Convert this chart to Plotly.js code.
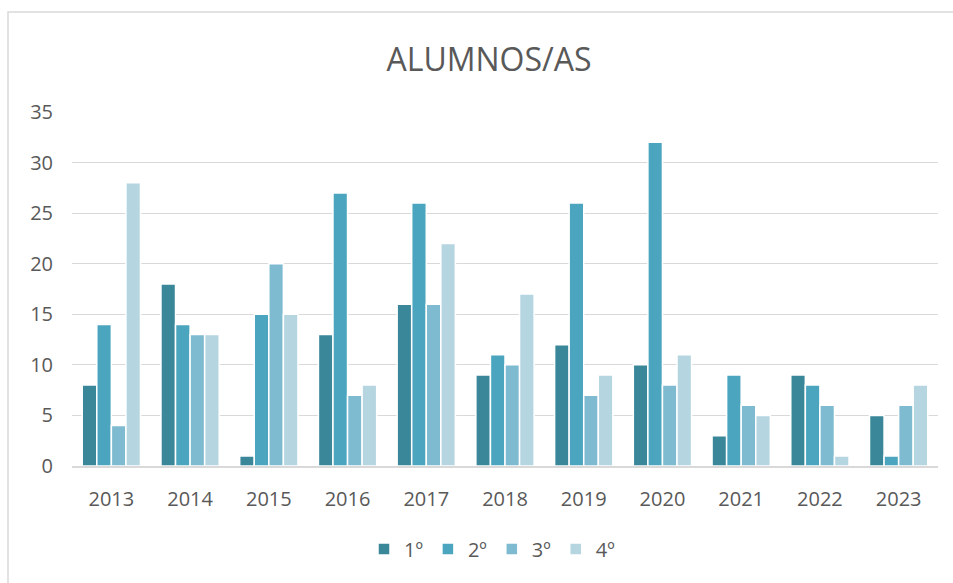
<!DOCTYPE html>
<html>
<head>
<meta charset="utf-8">
<script src="https://cdn.plot.ly/plotly-3.0.1.min.js"></script>
<style>html,body{margin:0;padding:0;background:#fff;}#chart{width:953px;height:583px;}</style>
</head>
<body>
<div id="chart"></div>
<script>
var years = ["2013","2014","2015","2016","2017","2018","2019","2020","2021","2022","2023"];
var seriesNames = ["1º","2º","3º","4º"];
var s1 = [8, 18, 1, 13, 16, 9, 12, 10, 3, 9, 5];
var s2 = [14, 14, 15, 27, 26, 11, 26, 32, 9, 8, 1];
var s3 = [4, 13, 20, 7, 16, 10, 7, 8, 6, 6, 6];
var s4 = [28, 13, 15, 8, 22, 17, 9, 11, 5, 1, 8];
var colors = ["#3A8799", "#4BA5BE", "#7EBBD0", "#B5D5E0"];
var yTicks = [0, 5, 10, 15, 20, 25, 30, 35];

var allSeries = [s1, s2, s3, s4];
var traces = allSeries.map(function(vals, i){
  return {
    type: "bar",
    x: years,
    y: vals,
    name: seriesNames[i],
    marker: {color: colors[i], line: {color: "#ffffff", width: 1.5}},
    hoverinfo: "x+y+name"
  };
});

var layout = {
  width: 953, height: 583,
  margin: {l: 72, r: 15, t: 112, b: 117},
  paper_bgcolor: "#ffffff",
  plot_bgcolor: "#ffffff",
  font: {family: "Open Sans, sans-serif", color: "#595959"},
  title: {text: "ALUMNOS/AS", font: {size: 32, color: "#595959"}, x: 489/953, xanchor: "center", xref: "container", y: 1 - 60/583, yanchor: "middle", yref: "container"},
  barmode: "group",
  bargap: 0.26,
  bargroupgap: 0,
  xaxis: {
    type: "category",
    tickfont: {size: 20, color: "#595959"},
    showgrid: false,
    showline: true, linecolor: "#d9d9d9", linewidth: 1.5,
    ticks: "",
    ticklabelstandoff: 14,
    fixedrange: true
  },
  yaxis: {
    range: [0, 35],
    tickvals: yTicks,
    ticktext: yTicks.map(String),
    tickfont: {size: 20, color: "#595959"},
    showgrid: true, gridcolor: "#d9d9d9", gridwidth: 1,
    zeroline: false,
    showline: false,
    ticks: "",
    ticklabelstandoff: 18,
    fixedrange: true
  },
  legend: {
    orientation: "h",
    x: (492 - 72) / 866, xanchor: "center",
    y: (466 - 549) / 354, yanchor: "middle",
    font: {size: 20, color: "#595959"},
    itemwidth: 30,
    traceorder: "normal"
  },
  shapes: [{
    type: "rect", xref: "paper", yref: "paper",
    x0: (8 - 72) / 866, x1: (960 - 72) / 866,
    y0: (466 - 600) / 354, y1: (466 - 12) / 354,
    line: {color: "#d9d9d9", width: 1.5},
    fillcolor: "rgba(0,0,0,0)", layer: "below"
  }],
  showlegend: true
};

Plotly.newPlot("chart", traces, layout, {displayModeBar: false, staticPlot: true});
</script>
</body>
</html>
